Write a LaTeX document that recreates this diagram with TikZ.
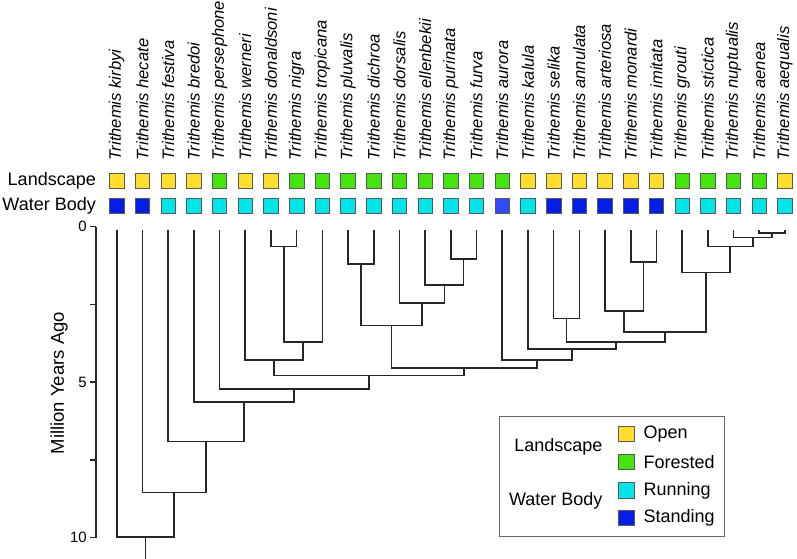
\documentclass[tikz,border=0pt]{standalone}
\usepackage{fontspec}
\setmainfont{Liberation Sans}
\usetikzlibrary{positioning}

\definecolor{openc}{RGB}{255,222,45}
\definecolor{forestc}{RGB}{70,228,15}
\definecolor{runc}{RGB}{0,230,232}
\definecolor{standc}{RGB}{5,30,230}
\definecolor{standb}{RGB}{50,75,250}

\tikzset{
  branch/.style={line width=1.6pt, draw=black!85},
  trait/.style={draw=black!65, line width=0.7pt, minimum size=14.5pt, inner sep=0pt},
  taxon/.style={rotate=90, anchor=west, inner sep=0pt, font=\fontsize{16.6}{16.6}\selectfont\itshape},
  rowlabel/.style={anchor=east, inner sep=0pt, font=\fontsize{18}{18}\selectfont},
  axisnum/.style={anchor=east, inner sep=0pt, xshift=-9pt, font=\fontsize{15}{15}\selectfont},
  legtext/.style={anchor=west, inner sep=0pt, font=\fontsize{18}{18}\selectfont},
}

\begin{document}
\begin{tikzpicture}[x=25.7pt, y=-31.1pt]
\useasboundingbox (-3.541,-7.289) rectangle (27.471,10.685);

% species, landscape and water body
\foreach \n/\l/\w [count=\i] in {kirbyi/openc/standc, hecate/openc/standc,
  festiva/openc/runc, bredoi/openc/runc, persephone/forestc/runc,
  werneri/openc/runc, donaldsoni/openc/runc, nigra/forestc/runc,
  tropicana/forestc/runc, pluvalis/forestc/runc, dichroa/forestc/runc,
  dorsalis/forestc/runc, ellenbekii/forestc/runc, purinata/forestc/runc,
  furva/forestc/runc, aurora/forestc/standb, kalula/openc/runc,
  selika/openc/standc, annulata/openc/standc, arteriosa/openc/standc,
  monardi/openc/standc, imitata/openc/standc, grouti/forestc/runc,
  stictica/forestc/runc, nuptualis/forestc/runc, aenea/forestc/runc,
  aequalis/openc/runc} {
  \coordinate (t\i) at (\i,0.1);
  \node[taxon] (sp\i) at (\i,-2.135) {Trithemis \n};
  \node[trait, fill=\l] (ls\i) at (\i,-1.469) {};
  \node[trait, fill=\w] (wb\i) at (\i,-0.666) {};
}
\node[rowlabel] (rowls) at (0.195,-1.469) {Landscape};
\node[rowlabel] (rowwb) at (0.195,-0.666) {Water Body};

% axis
\draw[branch] (0.195,0) -- (0.195,10);
\foreach \v in {0,2.5,5,7.5,10}
  \draw[branch] (0.195,\v) -- ++(-6pt,0);
\node[axisnum] (y0) at (0.195,0) {0};
\node[axisnum] (y5) at (0.195,5) {5};
\node[axisnum] (y10) at (0.195,10) {10};
\node[rotate=90, font=\fontsize{18.5}{18.5}\selectfont] (ytitle) at (-1.245,5.03) {Million Years Ago};

% clade nodes
\coordinate (A) at (7.5,0.64);
\coordinate (B) at (8.25,3.70);
\coordinate (C) at (7.125,4.29);
\coordinate (D) at (10.5,1.20);
\coordinate (E) at (14.5,1.04);
\coordinate (F) at (13.75,1.87);
\coordinate (G) at (12.875,2.45);
\coordinate (H) at (11.69,3.18);
\coordinate (I) at (18.5,2.95);
\coordinate (J) at (21.5,1.14);
\coordinate (K) at (20.75,2.71);
\coordinate (L) at (26.5,0.20);
\coordinate (M) at (25.75,0.35);
\coordinate (N) at (24.875,0.64);
\coordinate (O) at (23.94,1.47);
\coordinate (P) at (22.34,3.39);
\coordinate (Q) at (20.42,3.71);
\coordinate (R) at (18.71,3.93);
\coordinate (S) at (17.36,4.29);
\coordinate (T) at (14.52,4.55);
\coordinate (U) at (10.82,4.78);
\coordinate (V) at (7.91,5.22);
\coordinate (W) at (5.955,5.63);
\coordinate (X) at (4.48,6.91);
\coordinate (Y) at (3.24,8.55);
\coordinate (Z) at (2.12,9.97);
\coordinate (root) at (2.12,10.7);

% tree
\draw[branch] (t7) |- (A) -| (t8);
\draw[branch] (A) |- (B) -| (t9);
\draw[branch] (t6) |- (C) -| (B);
\draw[branch] (t10) |- (D) -| (t11);
\draw[branch] (t14) |- (E) -| (t15);
\draw[branch] (t13) |- (F) -| (E);
\draw[branch] (t12) |- (G) -| (F);
\draw[branch] (D) |- (H) -| (G);
\draw[branch] (t18) |- (I) -| (t19);
\draw[branch] (t21) |- (J) -| (t22);
\draw[branch] (t20) |- (K) -| (J);
\draw[branch] (t26) |- (L) -| (t27);
\draw[branch] (t25) |- (M) -| (L);
\draw[branch] (t24) |- (N) -| (M);
\draw[branch] (t23) |- (O) -| (N);
\draw[branch] (K) |- (P) -| (O);
\draw[branch] (I) |- (Q) -| (P);
\draw[branch] (t17) |- (R) -| (Q);
\draw[branch] (t16) |- (S) -| (R);
\draw[branch] (H) |- (T) -| (S);
\draw[branch] (C) |- (U) -| (T);
\draw[branch] (t5) |- (V) -| (U);
\draw[branch] (t4) |- (W) -| (V);
\draw[branch] (t3) |- (X) -| (W);
\draw[branch] (t2) |- (Y) -| (X);
\draw[branch] (t1) |- (Z) -| (Y);
\draw[branch] (Z) -- (root);

% legend
\draw[black!60, line width=0.8pt, fill=white] (15.887,6.109) rectangle (24.665,9.968);
\node[trait, minimum size=15.5pt, fill=openc] (kopen) at (20.83,6.666) {};
\node[trait, minimum size=15.5pt, fill=forestc] (kforest) at (20.83,7.566) {};
\node[trait, minimum size=15.5pt, fill=runc] (krun) at (20.83,8.482) {};
\node[trait, minimum size=15.5pt, fill=standc] (kstand) at (20.83,9.367) {};
\node[legtext, right=9pt of kopen] (topen) {Open};
\node[legtext, right=9pt of kforest] (tforest) {Forested};
\node[legtext, right=9pt of krun] (trun) {Running};
\node[legtext, right=9pt of kstand] (tstand) {Standing};
\node[rowlabel] (kls) at (19.91,7.074) {Landscape};
\node[rowlabel] (kwb) at (19.91,8.82) {Water Body};
\end{tikzpicture}
\end{document}
